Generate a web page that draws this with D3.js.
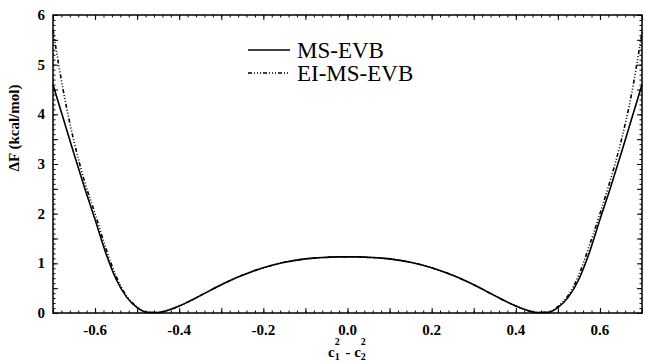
<!DOCTYPE html>
<html>
<head>
<meta charset="utf-8">
<script src="https://cdn.jsdelivr.net/npm/d3@7"></script>
<style>
    body { margin: 0; background: #fff; }
    svg { display: block; }
    .tick-label { font-family: "Liberation Serif", "DejaVu Serif", "Noto Serif", "Times New Roman", serif; font-weight: bold; font-size: 15px; fill: #000; }
    .legend-label { font-family: "Liberation Serif", "DejaVu Serif", "Noto Serif", "Times New Roman", serif; font-size: 23px; fill: #000; }
</style>
</head>
<body>
<div id="viewport"></div>
<script>
// free energy profile along c1^2 - c2^2
const xGrid = [
    -0.700, -0.675, -0.650, -0.625, -0.600, -0.575, -0.550, -0.525, -0.500, -0.475,
    -0.450, -0.425, -0.400, -0.375, -0.350, -0.325, -0.300, -0.275, -0.250, -0.225,
    -0.200, -0.175, -0.150, -0.125, -0.100, -0.075, -0.050, -0.025, 0.000,
    0.025, 0.050, 0.075, 0.100, 0.125, 0.150, 0.175, 0.200, 0.225, 0.250,
    0.275, 0.300, 0.325, 0.350, 0.375, 0.400, 0.425, 0.450, 0.475, 0.500,
    0.525, 0.550, 0.575, 0.600, 0.625, 0.650, 0.675, 0.700
];
const msEvb = [
    4.60, 3.90, 3.20, 2.52, 1.88, 1.22, 0.68, 0.32, 0.11, 0.012,
    0.010, 0.06, 0.14, 0.24, 0.35, 0.46, 0.57, 0.67, 0.76, 0.84,
    0.91, 0.97, 1.02, 1.06, 1.09, 1.11, 1.12, 1.13, 1.13,
    1.13, 1.12, 1.11, 1.09, 1.06, 1.02, 0.97, 0.91, 0.84, 0.76,
    0.67, 0.57, 0.46, 0.35, 0.24, 0.14, 0.06, 0.010, 0.012, 0.11,
    0.32, 0.68, 1.22, 1.88, 2.52, 3.20, 3.90, 4.60
];
const eiMsEvb = [
    5.70, 4.45, 3.45, 2.65, 2.00, 1.32, 0.74, 0.34, 0.12, 0.014,
    0.010, 0.06, 0.14, 0.24, 0.35, 0.46, 0.57, 0.67, 0.76, 0.84,
    0.91, 0.97, 1.02, 1.06, 1.09, 1.11, 1.12, 1.13, 1.13,
    1.13, 1.12, 1.11, 1.09, 1.06, 1.02, 0.97, 0.91, 0.84, 0.76,
    0.67, 0.57, 0.46, 0.35, 0.24, 0.14, 0.06, 0.010, 0.014, 0.13,
    0.36, 0.77, 1.36, 2.00, 2.68, 3.45, 4.40, 5.65
];
const xTickLabels = [-0.6, -0.4, -0.2, 0.0, 0.2, 0.4, 0.6];
const yTickLabels = [0, 1, 2, 3, 4, 5, 6];
const seriesNames = ["MS-EVB", "EI-MS-EVB"];

const width = 645, height = 362;
const frame = { left: 53, right: 642, top: 15, bottom: 313 };
const dashStyle = "4,2,1,2,1,2,1,2";

const x = d3.scaleLinear().domain([-0.7, 0.7]).range([frame.left, frame.right]);
const y = d3.scaleLinear().domain([0, 6]).range([frame.bottom, frame.top]);

const svg = d3.select("#viewport").append("svg")
    .attr("width", width)
    .attr("height", height);

// inward ticks on all four sides; long every 0.1 / 0.5, short every 0.02 / 0.1
const xMajor = d3.range(-7, 8).map(d => d / 10);
const xMinor = d3.range(-35, 36).map(d => d / 50);
const yMajor = d3.range(0, 13).map(d => d / 2);
const yMinor = d3.range(0, 61).map(d => d / 10);

function drawTicks(axis, values, size, translate) {
    svg.append("g")
        .attr("transform", translate)
        .call(axis.tickValues(values).tickSizeInner(size).tickSizeOuter(0).tickFormat(""))
        .call(g => g.select(".domain").remove())
        .selectAll("line").attr("stroke", "#000").attr("stroke-width", 1);
}

drawTicks(d3.axisBottom(x), xMinor, -2.5, `translate(0,${frame.bottom})`);
drawTicks(d3.axisBottom(x), xMajor, -5, `translate(0,${frame.bottom})`);
drawTicks(d3.axisTop(x), xMinor, -2.5, `translate(0,${frame.top})`);
drawTicks(d3.axisTop(x), xMajor, -5, `translate(0,${frame.top})`);
drawTicks(d3.axisLeft(y), yMinor, -2.5, `translate(${frame.left},0)`);
drawTicks(d3.axisLeft(y), yMajor, -5, `translate(${frame.left},0)`);
drawTicks(d3.axisRight(y), yMinor, -2.5, `translate(${frame.right},0)`);
drawTicks(d3.axisRight(y), yMajor, -5, `translate(${frame.right},0)`);

svg.append("rect")
    .attr("x", frame.left)
    .attr("y", frame.top)
    .attr("width", frame.right - frame.left)
    .attr("height", frame.bottom - frame.top)
    .attr("fill", "none")
    .attr("stroke", "#000")
    .attr("stroke-width", 1.5);

// tick labels
svg.append("g").selectAll("text")
    .data(xTickLabels)
    .join("text")
    .attr("class", "tick-label")
    .attr("x", d => x(d))
    .attr("y", frame.bottom + 22)
    .attr("text-anchor", "middle")
    .text(d => d3.format(".1f")(d).replace("−", "-"));

svg.append("g").selectAll("text")
    .data(yTickLabels)
    .join("text")
    .attr("class", "tick-label")
    .attr("x", frame.left - 8)
    .attr("y", d => y(d) + 5)
    .attr("text-anchor", "end")
    .text(d => d);

// axis titles
svg.append("text")
    .attr("class", "tick-label")
    .attr("transform", `translate(19,${(frame.top + frame.bottom) / 2 - 36}) rotate(-90)`)
    .attr("text-anchor", "middle")
    .text("ΔF (kcal/mol)");

const xTitle = svg.append("text")
    .attr("class", "tick-label")
    .attr("x", 328)
    .attr("y", 357);
xTitle.append("tspan").text("c");
xTitle.append("tspan").attr("font-size", 10).attr("dy", 3).text("1");
xTitle.append("tspan").attr("font-size", 10).attr("dx", -5).attr("dy", -15).text("2");
xTitle.append("tspan").attr("dx", 2).attr("dy", 12).text(" - c");
xTitle.append("tspan").attr("font-size", 10).attr("dy", 3).text("2");
xTitle.append("tspan").attr("font-size", 10).attr("dx", -5).attr("dy", -15).text("2");

// curves
const line = d3.line()
    .x(d => x(d[0]))
    .y(d => y(d[1]))
    .curve(d3.curveMonotoneX);

const series = [
    { name: seriesNames[0], values: msEvb, dash: null },
    { name: seriesNames[1], values: eiMsEvb, dash: dashStyle }
];

svg.append("g").selectAll("path")
    .data(series)
    .join("path")
    .attr("d", s => line(xGrid.map((xv, i) => [xv, s.values[i]])))
    .attr("fill", "none")
    .attr("stroke", "#000")
    .attr("stroke-width", 1.6)
    .attr("stroke-dasharray", s => s.dash);

// legend
const legend = svg.append("g").attr("transform", "translate(248,50)");
const rows = legend.selectAll("g")
    .data(series)
    .join("g")
    .attr("transform", (s, i) => `translate(0,${i * 23})`);
rows.append("line")
    .attr("x1", 0).attr("x2", 42)
    .attr("y1", 0).attr("y2", 0)
    .attr("stroke", "#000")
    .attr("stroke-width", 1.3)
    .attr("stroke-dasharray", s => s.dash);
rows.append("text")
    .attr("class", "legend-label")
    .attr("x", 49)
    .attr("y", 8)
    .text(s => s.name);
</script>
</body>
</html>
